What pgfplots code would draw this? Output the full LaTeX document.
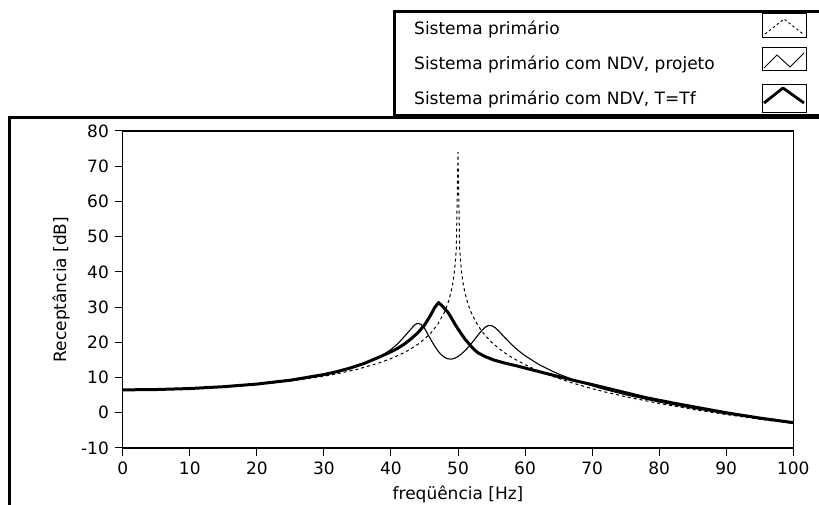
\documentclass[border=0pt]{standalone}
\usepackage{fontspec}
\setmainfont{DejaVu Sans}
\usepackage{pgfplots}
\usepackage{pgfplotstable}
\pgfplotsset{compat=1.18}
\pgfplotstableread{
f db
0 6.50
5 6.59
10 6.85
15 7.32
20 8.01
25 9.00
30 10.38
32 11.08
35 12.35
38 13.99
40 15.37
42 17.12
43 18.19
44 19.43
45 20.92
46 22.77
47 25.18
48 28.61
48.5 31.07
49 34.55
49.25 37.02
49.5 40.52
49.75 46.52
50 74.0
50.25 46.48
50.5 40.44
50.75 36.89
51 34.37
51.5 30.81
52 28.27
53 24.66
54 22.08
55 20.06
56 18.39
57 16.97
58 15.73
60 13.63
62 11.89
64 10.40
67 8.49
70 6.85
72 5.88
75 4.56
80 2.64
85 0.97
90 -0.50
95 -1.83
100 -3.04
}\primario
\pgfplotstableread{
f db
0 6.50
5 6.59
10 6.87
15 7.37
20 8.11
25 9.20
30 10.78
32 11.62
34 12.65
36 13.93
38 15.61
39 16.68
40 17.97
41 19.58
42 21.64
43 23.8
43.5 24.9
44 25.4
44.5 25.1
45 24.0
45.5 22.3
46 20.6
46.5 19.0
47 17.59
47.5 16.48
48 15.72
48.5 15.30
49 15.23
49.5 15.47
50 15.98
50.5 16.69
51 17.56
51.5 18.57
52 19.69
52.5 20.88
53 22.10
53.5 23.26
54 24.21
54.5 24.75
55 24.75
55.5 24.23
56 23.37
57 21.32
58 19.36
59 17.66
60 16.19
62 13.78
64 11.85
65 11.01
67 9.53
70 7.65
72 6.56
75 5.11
80 3.04
85 1.28
90 -0.26
95 -1.63
100 -2.87
}\projeto
\pgfplotstableread{
f db
0 6.50
5 6.60
10 6.88
15 7.40
20 8.15
25 9.25
30 10.85
32 11.70
34 12.75
36 14.0
38 15.6
40 17.3
41 18.3
42 19.5
43 21.0
44 22.7
45 24.9
45.5 26.4
46 28.0
46.5 29.8
47.1 31.3
47.5 30.6
48 29.6
48.5 28.5
49 27.0
49.5 25.3
50 23.8
50.5 22.4
51 21.0
51.5 19.9
52 18.8
52.5 17.8
53 17.0
54 16.0
55.3 15.0
57 14.1
58.8 13.3
61 12.2
63.7 10.9
67.7 9.0
70 8.0
73.7 6.3
78 4.3
82 2.8
86 1.4
90 0.0
95 -1.5
100 -2.8
}\tf
\begin{document}
\fontsize{17}{20}\selectfont
\begin{tikzpicture}[x=1pt,y=1pt]
\path[use as bounding box] (0,0) rectangle (819,505);
\begin{axis}[
 at={(122.7pt,57pt)}, anchor=south west,
 width=670.6pt, height=317pt, scale only axis,
 xmin=0, xmax=100, ymin=-10, ymax=80,
 xtick={0,10,...,100}, ytick={-10,0,...,80},
 tick align=outside, xtick pos=bottom, ytick pos=left,
 major tick length=8pt,
 tick style={line width=1pt,black},
 axis line style={line width=1.2pt},
 every tick label/.append style={font=\fontsize{17}{20}\selectfont},
 /pgf/number format/assume math mode=true,
 xlabel={freqüência [Hz]}, ylabel={Receptância [dB]},
 label style={font=\fontsize{17}{20}\selectfont},
]
\addplot[black, line width=1pt, dash pattern=on 3pt off 3pt] table[x=f,y=db] {\primario};
\addplot[black, line width=1.1pt] table[x=f,y=db] {\projeto};
\addplot[black, line width=3pt, line join=round] table[x=f,y=db] {\tf};
\end{axis}
% outer frame
\draw[line width=3.5pt] (9.5,0) -- (9.5,387.5) -- (819,387.5);
% legend box
\draw[line width=2.5pt] (394.5,388) -- (394.5,493.5) -- (819,493.5);
\draw[line width=2pt] (393,390) -- (819,390);
\node[anchor=base west, inner sep=0pt] at (414,470) {Sistema primário};
\node[anchor=base west, inner sep=0pt] at (414,435) {Sistema primário com NDV, projeto};
\node[anchor=base west, inner sep=0pt] at (414,400) {Sistema primário com NDV, T=Tf};
\draw[line width=1pt] (762,467) rectangle (806,491);
\draw[line width=1pt] (762,434) rectangle (806,457);
\draw[line width=1pt] (762,392) rectangle (806,420);
\draw[line width=0.9pt, dash pattern=on 2.5pt off 2.5pt] (765,471) -- (784,486) -- (803,471);
\draw[line width=0.9pt] (764,437) -- (777,450) -- (790,438) -- (804,452);
\draw[line width=2.8pt, line join=round] (764,402) -- (783,417) -- (804,402);
\end{tikzpicture}
\end{document}
